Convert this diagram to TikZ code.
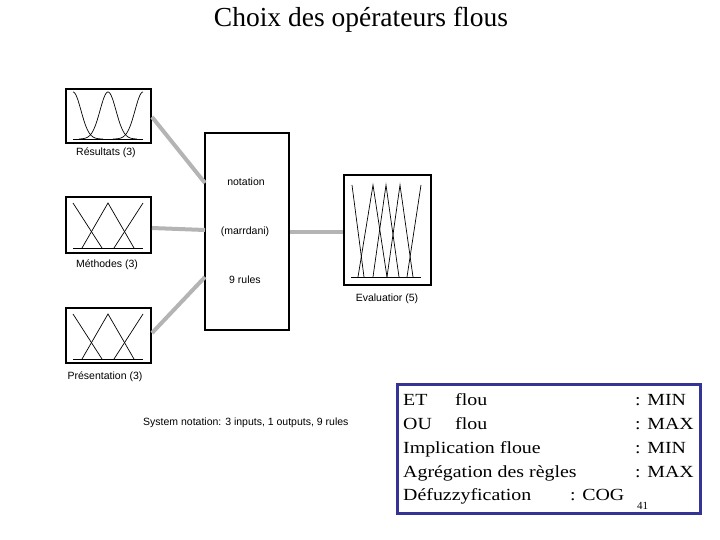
\documentclass[tikz,border=0pt]{standalone}
\usepackage{fontspec}
\setmainfont{Liberation Serif}
\setsansfont{Liberation Sans}
\usetikzlibrary{calc}
\definecolor{linkgray}{RGB}{180,180,180}
\definecolor{boxblue}{RGB}{52,52,150}
\tikzset{
  mfbox/.style={draw=black, line width=1.6pt, inner sep=0pt},
  mf/.style={draw=black, line width=0.7pt},
  link/.style={draw=linkgray, line width=4pt},
  smalllab/.style={font=\sffamily\fontsize{10.5}{12}\selectfont, inner sep=0pt, anchor=base},
  boxline/.style={font=\fontsize{17}{20}\selectfont, inner sep=0pt, anchor=base west},
}
\newcommand\trimfs[2]{%
  \draw[mf] (73,#1) -- (102,#2);
  \draw[mf] (82,#2) -- (108,#1) -- (134,#2);
  \draw[mf] (114,#2) -- (143,#1);
  \draw[mf] (73,#2) -- (143,#2);}
\newcommand\bx[1]{\scalebox{1.17}[1]{#1}}
\begin{document}
\begin{tikzpicture}[x=1pt, y=-1pt]
\useasboundingbox (0,0) rectangle (720,540);
% title
\node[font=\fontsize{27.5}{30}\selectfont, inner sep=0pt, anchor=base] (title) at (361,27) {Choix des opérateurs flous};

% input boxes
\node[mfbox, minimum width=85pt, minimum height=54pt] (b1) at (108.5,116) {};
\node[mfbox, minimum width=85pt, minimum height=56pt] (b2) at (108.5,225) {};
\node[mfbox, minimum width=85pt, minimum height=55pt] (b3) at (108.5,335.5) {};
% central box
\node[mfbox, line width=1.4pt, minimum width=84pt, minimum height=197pt] (c) at (247,231.5) {};
% output box
\node[mfbox, minimum width=87pt, minimum height=110pt] (ev) at (387.5,230) {};

% gaussian MFs in box 1
\draw[mf] plot[domain=73:103, samples=60] (\x, {139-47*exp(-((\x-73)^2)/128)});
\draw[mf] plot[domain=79:137, samples=90] (\x, {139-47*exp(-((\x-108)^2)/128)});
\draw[mf] plot[domain=113:143, samples=60] (\x, {139-47*exp(-((\x-143)^2)/128)});
\draw[mf] (73,139) -- (143,139);

% triangular MFs in boxes 2 and 3
\trimfs{203}{248}
\trimfs{314}{359}

% output MFs
\draw[mf] (351,277) -- (421,277);
\draw[mf] (352,185) -- (364,277);
\draw[mf] (358,277) -- (373,185) -- (387,277);
\draw[mf] (373,277) -- (386,185) -- (399,277);
\draw[mf] (387,277) -- (400,185) -- (413,277);
\draw[mf] (407,277) -- (421,185);

% connectors
\coordinate (cin1) at (205,183);
\coordinate (cin2) at (205,230);
\coordinate (cin3) at (205,277);
\coordinate (o1) at (152,117);
\coordinate (o2) at (152,228);
\coordinate (o3) at (152,333);
\draw[link] (o1) -- (cin1);
\draw[link] (o2) -- (cin2);
\draw[link] (o3) -- (cin3);
\draw[link] (c.east |- 0,232) -- (ev.west |- 0,232);

% labels
\node[smalllab] (l1) at (106,156) {Résultats (3)};
\node[smalllab] (l2) at (107,267) {Méthodes (3)};
\node[smalllab] (l3) at (105,379) {Présentation (3)};
\node[smalllab] (t1) at (246,186) {notation};
\node[smalllab] (t2) at (245,235) {(marrdani)};
\node[smalllab] (t3) at (245,283) {9 rules};
\node[smalllab] (l4) at (387,301) {Evaluatior (5)};
\node[smalllab, anchor=base west] (sys) at (143,425) {System notation: 3 inputs, 1 outputs, 9 rules};

% blue box
\draw[boxblue, line width=3pt] (397,384) rectangle (700,513);
\node[boxline] (r1a) at (403,405) {\bx{ET}};
\node[boxline] (r1b) at (455,405) {\bx{flou}};
\node[boxline] (r1c) at (635,405) {\bx{: MIN}};
\node[boxline] (r2a) at (403,429) {\bx{OU}};
\node[boxline] (r2b) at (455,429) {\bx{flou}};
\node[boxline] (r2c) at (635,429) {\bx{: MAX}};
\node[boxline] (r3a) at (403,453) {\bx{Implication floue}};
\node[boxline] (r3c) at (635,453) {\bx{: MIN}};
\node[boxline] (r4a) at (403,477) {\bx{Agrégation des règles}};
\node[boxline] (r4c) at (635,477) {\bx{: MAX}};
\node[boxline] (r5a) at (403,500) {\bx{Défuzzyfication}};
\node[boxline] (r5c) at (570,500) {\bx{: COG}};
\node[font=\fontsize{11}{12}\selectfont, inner sep=0pt, anchor=base west] (pg) at (637,509) {41};
\end{tikzpicture}
\end{document}
